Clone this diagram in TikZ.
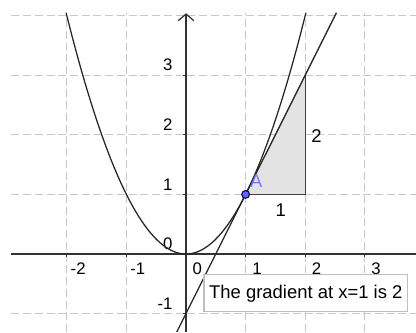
\documentclass[tikz,border=0pt]{standalone}
\usepackage{fontspec}
\setmainfont{Liberation Sans}
\usetikzlibrary{arrows.meta}
\definecolor{gridgray}{RGB}{200,200,200}
\definecolor{ptblue}{RGB}{100,100,255}
\definecolor{lblblue}{RGB}{120,120,255}
\tikzset{
  gridline/.style={gridgray,dash pattern=on 3.8pt off 1.8pt,line width=0.5pt},
  ticklab/.style={font=\fontsize{8}{9}\selectfont},
  biglab/.style={font=\fontsize{8.8}{10}\selectfont}
}

\begin{document}
\begin{tikzpicture}[>={Straight Barb[length=1.1mm,width=2.6mm]},line width=0.6pt]
  \useasboundingbox (-3.121,-1.309) rectangle (3.859,4.262);
  % grid
  \foreach \x in {-2,-1,1,2,3}
    \draw[gridline] (\x,-1.309) -- (\x,4.05);
  \foreach \y in {-1,1,2,3,4}
    \draw[gridline] (-2.93,\y) -- (3.859,\y);
  % triangle
  \fill[gray!22] (1,1) -- (2,1) -- (2,3) -- cycle;
  \draw[black!75] (1,1) -- (2,1) -- (2,3);
  % axes
  \draw[black!80] (-2.93,0) -- (3.859,0);
  \draw[->,black!80] (0,-1.309) -- (0,4.04);
  \foreach \x in {-2,-1,1,2,3}
    \draw[black!80] (\x,0) -- (\x,-0.05);
  \foreach \y in {-1,1,2,3}
    \draw[black!80] (0,\y) -- (-0.05,\y);
  \foreach \x/\t in {-2/-2,-1/-1,0/0,1/1,2/2,3/3}
    \node[ticklab] (xl\x) at (\x+0.19,-0.25) {\t};
  \foreach \y/\t in {-1/-1,0/0,1/1,2/2,3/3}
    \node[ticklab,anchor=east] (yl\y) at (-0.1,\y+0.17) {\t};
  % curve and tangent
  \draw[black!85,domain=-2.012:2.012,samples=80] plot (\x,{\x*\x});
  \draw[black!85] (-0.155,-1.309) -- (2.525,4.05);
  % point and labels
  \node[circle,fill=ptblue,draw=black!70!blue,line width=0.5pt,inner sep=0pt,minimum size=0.13cm] (ptA) at (1,1) {};
  \node[lblblue,biglab] (labA) at (1.18,1.22) {A};
  \node[biglab] (runlab) at (1.59,0.74) {1};
  \node[biglab] (riselab) at (2.19,1.98) {2};
  \node[draw=gray!50,fill=white,biglab,minimum width=3.42cm,minimum height=0.62cm,inner sep=1pt] (gradbox) at (2.01,-0.66) {The gradient at x=1 is 2};
\end{tikzpicture}
\end{document}
